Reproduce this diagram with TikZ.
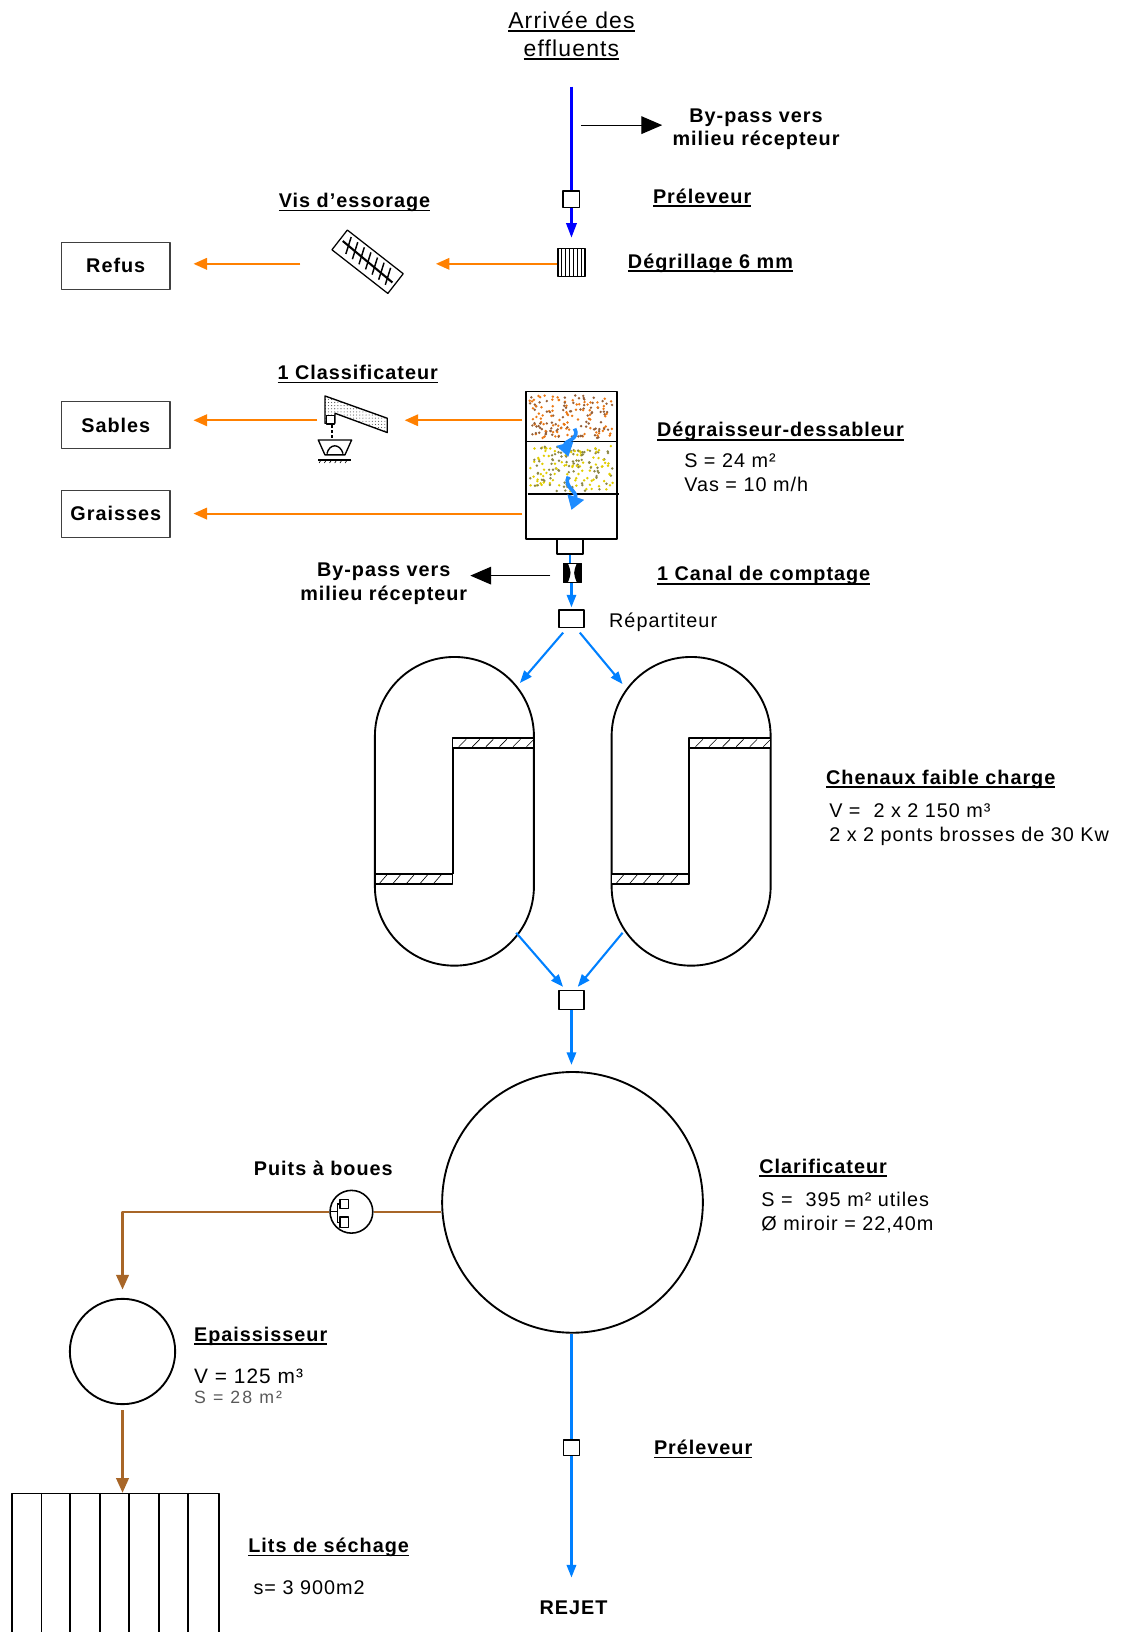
\documentclass[tikz,border=0pt]{standalone}
\usepackage{fontspec}
\setmainfont{Liberation Sans}[LetterSpace=5]
\usetikzlibrary{arrows.meta,patterns,calc}
\definecolor{cblue}{RGB}{0,0,255}
\definecolor{lblue}{RGB}{0,128,255}
\definecolor{aqblue}{RGB}{30,140,255}
\definecolor{corange}{RGB}{255,128,0}
\definecolor{cbrown}{RGB}{168,102,40}
\definecolor{dotA}{RGB}{150,95,55}
\definecolor{dotB}{RGB}{235,120,20}
\definecolor{dotC}{RGB}{140,135,70}
\definecolor{dotD}{RGB}{225,205,0}
\newcommand\myul[1]{\setbox0=\hbox{#1}\rlap{\rule[-3.5pt]{\wd0}{1.5pt}}\box0}
\begin{document}
\begin{tikzpicture}[x=1pt,y=-1pt,line join=round,
  lbl/.style={font=\fontsize{19}{23}\selectfont\bfseries,inner sep=0pt},
  txt/.style={font=\fontsize{19}{23}\selectfont,inner sep=0pt},
  outbox/.style={draw=black!75,line width=1pt,minimum width=104pt,minimum height=45pt,font=\fontsize{19}{23}\selectfont\bfseries,inner sep=0pt},
  smallbox/.style={draw,line width=1.3pt,fill=white,inner sep=0pt},
  bluearrow/.style={draw=cblue,line width=2.2pt,-{Triangle[length=14pt,width=10pt]}},
  flow/.style={draw=lblue,line width=2pt,-{Triangle[length=12pt,width=9pt]}},
  flowline/.style={draw=lblue,line width=2pt},
  refuse/.style={draw=corange,line width=2pt,-{Triangle[length=13pt,width=11pt]}},
  sludge/.style={draw=cbrown,line width=2pt,-{Triangle[length=14pt,width=12pt]}},
  bypass/.style={draw=black,line width=1pt,-{Triangle[length=20pt,width=17pt]}},
  tank/.style={draw,line width=1.8pt,inner sep=0pt},
  hatchbar/.style={draw,line width=1.6pt,fill=white},
  curl/.style={aqblue,line width=3.5pt,-{Triangle[length=13pt,width=16pt]}},
]
\useasboundingbox (0,0) rectangle (1080,1565);

% ---------- inlet ----------
\node[txt,font=\fontsize{22}{26}\selectfont,anchor=base] (arr1) at (548,27) {\myul{Arrivée des}};
\node[txt,font=\fontsize{22}{26}\selectfont,anchor=base] (arr2) at (548,54) {\myul{effluents}};
\node[smallbox,minimum size=16pt] (prel1) at (548,191) {};
\coordinate (in) at (548,83);
\node[draw,line width=1.2pt,minimum width=26pt,minimum height=27pt,inner sep=0pt] (degr) at (548,252) {};
\foreach \i in {1,...,6} \draw[line width=0.9pt] (535+\i*3.7,238.5) -- (535+\i*3.7,265.5);
\draw[cblue,line width=2.2pt] (in) -- (prel1.north);
\draw[bluearrow,shorten >=10pt] (prel1.south) -- (degr.north);

\coordinate (bp1s) at (557,120);
\coordinate (bp1e) at (635,120);
\draw[bypass] (bp1s) -- (bp1e);
\node[lbl,anchor=base] (bp1a) at (725,117) {By-pass vers};
\node[lbl,anchor=base] (bp1b) at (725,140) {milieu récepteur};
\node[lbl,anchor=base west] (lprel1) at (626,195) {\myul{Préleveur}};
\node[lbl,anchor=base west] (ldegr) at (602,257) {\myul{Dégrillage 6 mm}};

% ---------- screening outputs ----------
\node[outbox] (refus) at (111,255) {Refus};
\node[outbox] (sables) at (111,407.5) {Sables};
\node[outbox] (graisses) at (111,492.5) {Graisses};
\node[lbl,anchor=base] (lvis) at (340,199) {\myul{Vis d'essorage}};
\coordinate (visR) at (418,253);
\coordinate (visL) at (288,253);
\draw[refuse] (degr.west |- visR) -- (visR);
\draw[refuse,shorten >=22pt] (visL) -- (visL -| refus.east);
\begin{scope}[shift={(352.5,251)},rotate=-38]
  \draw[line width=1.2pt,fill=white] (-34,-12) rectangle (34,12);
  \draw[line width=2pt] (-31,-1) -- (31,1);
  \foreach \t in {-24,-16,...,24} \draw[line width=1.4pt] (\t-3,-9) -- (\t+3,7);
\end{scope}

% ---------- degreaser ----------
\node[tank,minimum width=87pt,minimum height=141.5pt] (dg) at (547.8,446.2) {};
\pgfmathsetseed{7}
\foreach \i in {1,...,170}{
  \pgfmathsetmacro\rx{508+rnd*80}
  \pgfmathsetmacro\ry{379+rnd*41}
  \ifodd\i \fill[dotA] (\rx,\ry) circle (1.3pt); \else \fill[dotB] (\rx,\ry) circle (1.3pt); \fi
}
\foreach \i in {1,...,180}{
  \pgfmathsetmacro\rx{508+rnd*80}
  \pgfmathsetmacro\ry{427+rnd*44}
  \ifodd\i \fill[dotC] (\rx,\ry) circle (1.3pt); \else \fill[dotD] (\rx,\ry) circle (1.3pt); \fi
}
\draw[line width=1.6pt] (504.3,423.5) -- (591.3,423.5);
\draw[line width=1.6pt] (506,474) -- (594,474);
\draw[curl] (551,411) .. controls (557,421) and (541,423) .. (545,438);
\draw[curl] (545,457) .. controls (540,467) and (554,471) .. (548,489);
\node[tank,line width=1.6pt,minimum width=25pt,minimum height=14pt] (out) at (546.5,524.5) {};
\node[lbl,anchor=base west] (ldg) at (630,419) {\myul{Dégraisseur-dessableur}};
\node[txt,anchor=base west] (ldg1) at (656,448) {S = 24 m²};
\node[txt,anchor=base west] (ldg2) at (656,471) {Vas = 10 m/h};

% classificateur
\node[lbl,anchor=base] (lcls) at (343,364) {\myul{1 Classificateur}};
\coordinate (dgS) at (501,403);
\coordinate (clsR) at (388,403);
\coordinate (clsL) at (304,403);
\draw[refuse] (dgS) -- (clsR);
\draw[refuse,shorten >=22pt] (clsL) -- (clsL -| sables.east);
\draw[line width=1.3pt,pattern=dots,pattern color=black!70] (311.6,379.7) -- (371.4,401.1) -- (371.4,414.8) -- (321.2,396.3) -- (321.2,405.9) -- (311.6,405.9) -- cycle;
\draw[line width=1.3pt,fill=white] (313,398.5) rectangle (321,406.5);
\draw[line width=1.8pt,dash pattern=on 3pt off 2pt] (318,407.5) -- (318,420.3);
\draw[line width=1.3pt] (305.2,421.9) -- (337.2,421.9) -- (330.8,436.2) -- (311.6,436.2) -- cycle;
\draw[line width=1.3pt] (313.5,435) .. controls (316,425) and (326,425) .. (329,435);
\draw[line width=1.2pt] (305,441) -- (337,441);
\foreach \x in {308,313,...,333} \draw[line width=0.6pt] (\x,441) -- (\x-2,444);
\coordinate (dgG) at (501,492.5);
\draw[refuse,shorten >=22pt] (dgG) -- (dgG -| graisses.east);

% ---------- counting channel ----------
\node[inner sep=0pt,minimum width=17.7pt,minimum height=18.7pt] (canal) at (548.8,549.3) {};
\draw[line width=1pt,fill=white] (540,540) rectangle (557.7,558.7);
\fill (540,540) -- (544.5,540) .. controls (548,549.3) .. (544.5,558.7) -- (540,558.7) -- cycle;
\fill (557.7,540) -- (553.2,540) .. controls (549.7,549.3) .. (553.2,558.7) -- (557.7,558.7) -- cycle;
\draw[flowline] (out.south) -- (out.south |- canal.north);
\coordinate (bp2e) at (451,552);
\draw[bypass,shorten <=12pt] (canal.west |- bp2e) -- (bp2e);
\node[lbl,anchor=base] (bp2a) at (368,553) {By-pass vers};
\node[lbl,anchor=base] (bp2b) at (368,576) {milieu récepteur};
\node[lbl,anchor=base west] (lcanal) at (630,557) {\myul{1 Canal de comptage}};

\node[smallbox,minimum width=24pt,minimum height=17pt] (rep) at (548,593.5) {};
\draw[flow,shorten >=2pt] (canal.south -| rep.north) -- (rep.north);
\node[txt,anchor=base west] (lrep) at (584,602) {Répartiteur};

% ---------- channels ----------
\node[tank,rounded corners=76pt,minimum width=152.5pt,minimum height=296pt] (ch1) at (435.75,778) {};
\node[tank,rounded corners=76pt,minimum width=152.5pt,minimum height=296pt] (ch2) at (662.75,778) {};
\foreach \dx in {0,227}{
  \begin{scope}[xshift=\dx pt]
    \draw[line width=1.8pt] (434,717) -- (434,838);
    \draw[hatchbar] (434,708) rectangle (512,717);
    \draw[hatchbar] (359.5,838) rectangle (434,848);
    \foreach \x in {440,453,...,505} \draw[line width=0.6pt] (\x,716) -- (\x+7,709);
    \foreach \x in {364,377,...,425} \draw[line width=0.6pt] (\x,847) -- (\x+7,839);
  \end{scope}
}
\coordinate (c1in) at (498.5,655);
\coordinate (c2in) at (597,656);
\draw[flow] ($(rep.south)+(-8,4)$) -- (c1in);
\draw[flow] ($(rep.south)+(8,4)$) -- (c2in);
\node[smallbox,minimum width=24pt,minimum height=18pt] (col) at (548,959) {};
\coordinate (c1out) at (495,894.5);
\coordinate (c2out) at (597,894.5);
\draw[flow] (c1out) -- ($(col.north)+(-8,-3)$);
\draw[flow] (c2out) -- ($(col.north)+(6,-3)$);
\node[lbl,anchor=base west] (lch) at (792,752) {\myul{Chenaux faible charge}};
\node[txt,anchor=base west] (lch1) at (795,784) {V =\ \ 2 x 2 150 m³};
\node[txt,anchor=base west] (lch2) at (795,807) {2 x 2 ponts brosses de 30 Kw};

% ---------- clarifier ----------
\node[tank,circle,minimum size=250pt] (clar) at (549,1153) {};
\draw[flow,shorten >=6pt] (col.south) -- (col.south |- clar.north);
\node[lbl,anchor=base west] (lclar) at (728,1125) {\myul{Clarificateur}};
\node[txt,anchor=base west] (lclar1) at (730,1157) {S =\ \ 395 m² utiles};
\node[txt,anchor=base west] (lclar2) at (730,1180) {Ø miroir = 22,40m};

\node[smallbox,minimum size=15pt] (prel2) at (548,1388.5) {};
\node[lbl,anchor=base] (rejet) at (550,1548) {REJET};
\draw[flowline] (clar.south -| prel2.north) -- (prel2.north);
\draw[flow,shorten >=22pt] (prel2.south) -- (prel2.south |- rejet.north);
\node[lbl,anchor=base west] (lprel2) at (627,1395) {\myul{Préleveur}};

% ---------- sludge ----------
\node[draw,circle,line width=1.5pt,minimum size=41pt,inner sep=0pt] (puits) at (337,1162) {};
\draw[line width=1.1pt] (323.4,1154.5) -- (323.4,1172);
\draw[line width=1.1pt] (316.5,1162) -- (323.4,1162);
\draw[line width=1.1pt] (323.4,1154.5) -- (326,1154.5) (323.4,1172) -- (326,1172);
\draw[line width=1.1pt] (326,1150.5) rectangle (334,1158.5);
\draw[line width=1.1pt] (326,1167) rectangle (334,1177);
\node[lbl,anchor=base] (lpuits) at (310,1127) {Puits à boues};
\draw[cbrown,line width=2pt] (puits.east) -- (puits.east -| clar.west);
\node[tank,circle,minimum size=101pt] (epa) at (117.5,1296) {};
\draw[sludge,shorten >=8pt] (puits.west) -| (epa.north);
\node[lbl,anchor=base west] (lepa) at (186,1286) {\myul{Epaississeur}};
\node[txt,font=\fontsize{20}{24}\selectfont,anchor=base west] (lepa1) at (186,1327) {V = 125 m³};
\node[txt,font=\fontsize{17}{20}\selectfont\addfontfeature{LetterSpace=12},text=black!65,anchor=base west] (lepa2) at (186,1346) {S = 28 m²};

\node[draw,line width=1.5pt,minimum width=199pt,minimum height=150pt,anchor=north west,inner sep=0pt] (lits) at (10.5,1431.5) {};
\foreach \x/\w in {40/1.3,67/1.3,96/1.3,124/2,152.5/1.3,180.5/2} \draw[line width=\w pt] (\x,1431.5) -- (\x,1581.5);
\draw[sludge,shorten <=5pt] (epa.south) -- (epa.south |- lits.north);
\node[lbl,anchor=base west] (llits) at (238,1489) {\myul{Lits de séchage}};
\node[txt,anchor=base west] (llits1) at (243,1529) {s= 3 900m2};
\end{tikzpicture}
\end{document}
